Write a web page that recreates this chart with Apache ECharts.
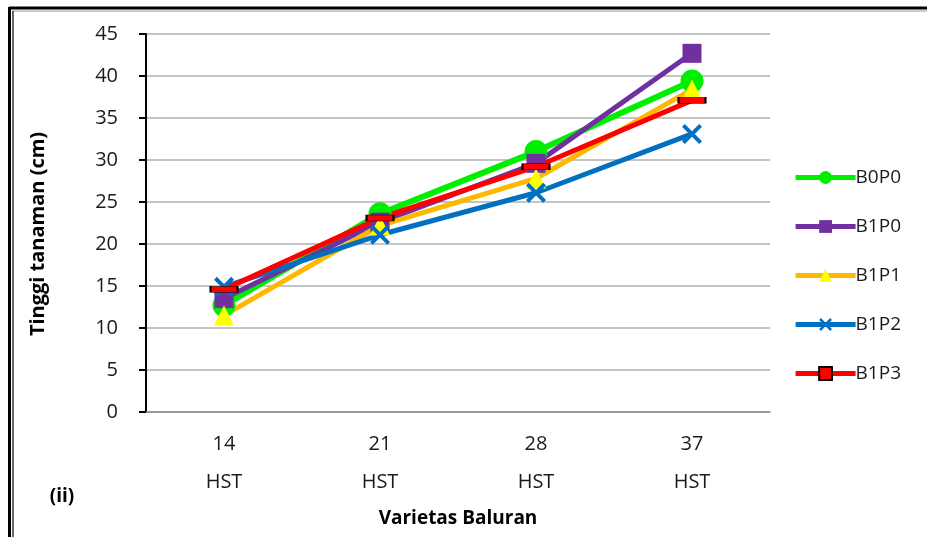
<!DOCTYPE html>
<html>
<head>
<meta charset="utf-8">
<script src="https://cdn.jsdelivr.net/npm/echarts@6/dist/echarts.min.js"></script>
<style>
  html, body { margin: 0; padding: 0; background: #fff; }
  #chart { width: 927px; height: 537px; }
</style>
</head>
<body>
<div id="chart"></div>
<script>
// Plant height (cm) by days after planting
const categories = ['14\nHST', '21\nHST', '28\nHST', '37\nHST'];
const seriesNames = ['B0P0', 'B1P0', 'B1P1', 'B1P2', 'B1P3'];
const b0p0 = [12.7, 23.6, 31.0, 39.4];
const b1p0 = [13.5, 22.6, 29.6, 42.7];
const b1p1 = [11.5, 22.2, 27.8, 38.4];
const b1p2 = [14.9, 21.1, 26.1, 33.1];
const b1p3 = [14.6, 23.1, 29.2, 37.1];
const yTicks = [0, 5, 10, 15, 20, 25, 30, 35, 40, 45];

const FONT = '"Open Sans", "Noto Sans", sans-serif';
const crossPath = 'path://M1.4,0 L5,3.6 L8.6,0 L10,1.4 L6.4,5 L10,8.6 L8.6,10 L5,6.4 L1.4,10 L0,8.6 L3.6,5 L0,1.4 Z';

function lineSeries(name, data, lineColor, symbol, symbolSize, itemStyle, width) {
  return {
    name: name,
    type: 'line',
    data: data,
    symbol: symbol,
    symbolSize: symbolSize,
    showAllSymbol: true,
    lineStyle: { color: lineColor, width: width },
    itemStyle: itemStyle,
    emphasis: { disabled: true },
    animation: false
  };
}

const chart = echarts.init(document.getElementById('chart'), null, { renderer: 'canvas' });
chart.setOption({
  backgroundColor: '#ffffff',
  animation: false,
  grid: { left: 146, right: 157, top: 34, bottom: 125 },
  xAxis: {
    type: 'category',
    data: categories,
    boundaryGap: true,
    name: 'Varietas Baluran',
    nameLocation: 'middle',
    nameGap: 97,
    nameTextStyle: { fontFamily: FONT, fontSize: 19, fontWeight: 'bold', color: '#000' },
    axisLine: { lineStyle: { color: '#8c8c8c', width: 1.5 } },
    axisTick: { show: false },
    axisLabel: {
      fontFamily: FONT, fontSize: 20, color: '#1a1a1a',
      lineHeight: 38, margin: 13
    },
    splitLine: { show: false }
  },
  yAxis: {
    type: 'value',
    min: yTicks[0],
    max: yTicks[yTicks.length - 1],
    interval: yTicks[1] - yTicks[0],
    axisLine: { show: true, lineStyle: { color: '#000', width: 2 } },
    axisTick: { show: true, length: 7, lineStyle: { color: '#000', width: 2 } },
    axisLabel: { fontFamily: FONT, fontSize: 20, color: '#1a1a1a', margin: 28 },
    splitLine: { lineStyle: { color: '#b0b0b0', width: 1.5 } }
  },
  legend: {
    orient: 'vertical',
    right: 21,
    top: 163,
    itemWidth: 60,
    itemHeight: 16,
    itemGap: 30,
    data: seriesNames,
    lineStyle: { width: 5 },
    textStyle: { fontFamily: FONT, fontSize: 19, color: '#1a1a1a', padding: [0, 0, 0, -5] },
    selectedMode: false
  },
  series: [
    lineSeries('B0P0', b0p0, '#00ee00', 'circle', 23, { color: '#00ee00' }, 6),
    lineSeries('B1P0', b1p0, '#7030a0', 'rect', 19, { color: '#7030a0' }, 5),
    lineSeries('B1P1', b1p1, '#ffb800', 'triangle', 20, { color: '#ffff00' }, 5),
    lineSeries('B1P2', b1p2, '#0070c0', crossPath, 20, { color: '#0070c0' }, 5),
    lineSeries('B1P3', b1p3, '#ff0000', 'rect', [27, 6], { color: '#ff0000', borderColor: '#000', borderWidth: 1 }, 5)
  ],
  graphic: [
    // page frame: double rule on the left, heavy rule on top
    { type: 'line', shape: { x1: 9, y1: 8, x2: 927, y2: 8 }, style: { stroke: '#000', lineWidth: 3 }, silent: true },
    { type: 'line', shape: { x1: 12, y1: 11, x2: 927, y2: 11 }, style: { stroke: '#9a9a9a', lineWidth: 1 }, silent: true },
    { type: 'line', shape: { x1: 9.5, y1: 7, x2: 9.5, y2: 537 }, style: { stroke: '#000', lineWidth: 3 }, silent: true },
    { type: 'line', shape: { x1: 13, y1: 11, x2: 13, y2: 537 }, style: { stroke: '#000', lineWidth: 1.2 }, silent: true },
    {
      type: 'text', x: 38, y: 234, rotation: Math.PI / 2,
      style: { text: 'Tinggi tanaman (cm)', font: 'bold 20px ' + FONT, fill: '#000', align: 'center', verticalAlign: 'middle' },
      silent: true
    },
    {
      type: 'text', x: 62, y: 497,
      style: { text: '(ii)', font: 'bold 19px ' + FONT, fill: '#000', align: 'center', verticalAlign: 'middle' },
      silent: true
    }
  ]
});
</script>
</body>
</html>
